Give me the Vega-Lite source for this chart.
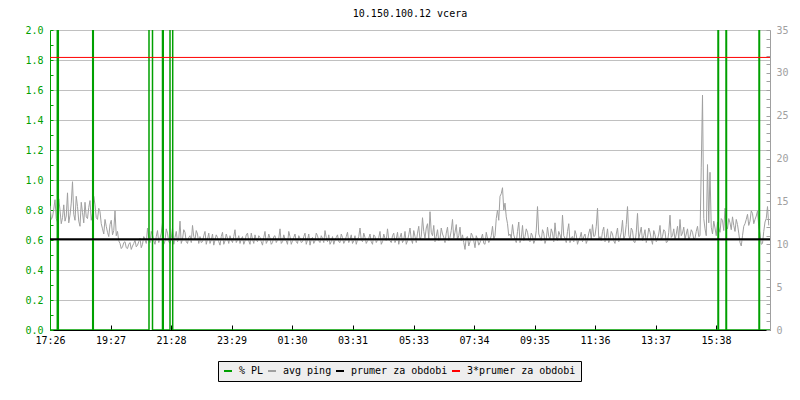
{
  "$schema": "https://vega.github.io/schema/vega-lite/v6.json",
  "width": 720,
  "height": 300,
  "autosize": {"type": "none"},
  "padding": {"left": 50, "top": 30, "right": 30, "bottom": 70},
  "background": "#ffffff",
  "title": {"text": "10.150.100.12 vcera", "font": "DejaVu Sans Mono", "fontSize": 10, "fontWeight": "normal", "color": "#000000", "offset": 6, "anchor": "middle"},
  "datasets": {
    "ping": [
      {"t":0,"ping":14.5},{"t":5,"ping":13.2},{"t":10,"ping":15.2},{"t":15,"ping":12.6},{"t":20,"ping":14.0},{"t":25,"ping":13.1},{"t":30,"ping":12.7},{"t":35,"ping":16.0},{"t":40,"ping":13.4},{"t":45,"ping":17.3},
      {"t":50,"ping":12.8},{"t":55,"ping":14.4},{"t":60,"ping":12.1},{"t":65,"ping":13.7},{"t":70,"ping":14.9},{"t":75,"ping":13.0},{"t":80,"ping":15.1},{"t":85,"ping":13.6},{"t":90,"ping":14.6},{"t":95,"ping":12.9},
      {"t":100,"ping":13.8},{"t":105,"ping":11.8},{"t":110,"ping":12.9},{"t":115,"ping":11.4},{"t":120,"ping":12.3},{"t":125,"ping":11.1},{"t":130,"ping":13.9},{"t":135,"ping":11.5},{"t":140,"ping":10.1},{"t":145,"ping":9.7},
      {"t":150,"ping":10.3},{"t":155,"ping":9.5},{"t":160,"ping":10.2},{"t":165,"ping":9.8},{"t":170,"ping":10.5},{"t":175,"ping":9.9},{"t":180,"ping":10.7},{"t":185,"ping":10.0},{"t":190,"ping":10.6},{"t":195,"ping":11.9},
      {"t":200,"ping":10.2},{"t":205,"ping":11.1},{"t":210,"ping":10.0},{"t":215,"ping":11.6},{"t":220,"ping":10.7},{"t":225,"ping":12.5},{"t":230,"ping":10.4},{"t":235,"ping":11.3},{"t":240,"ping":10.1},{"t":245,"ping":11.9},
      {"t":250,"ping":10.8},{"t":255,"ping":10.3},{"t":260,"ping":12.7},{"t":265,"ping":10.6},{"t":270,"ping":11.4},{"t":275,"ping":10.1},{"t":280,"ping":11.0},{"t":285,"ping":12.2},{"t":290,"ping":10.5},{"t":295,"ping":11.2},
      {"t":300,"ping":10.9},{"t":305,"ping":10.3},{"t":310,"ping":11.5},{"t":315,"ping":10.6},{"t":320,"ping":10.1},{"t":325,"ping":11.2},{"t":330,"ping":10.5},{"t":335,"ping":10.8},{"t":340,"ping":9.9},{"t":345,"ping":11.4},
      {"t":350,"ping":10.4},{"t":355,"ping":10.7},{"t":360,"ping":11.0},{"t":365,"ping":10.2},{"t":370,"ping":11.7},{"t":375,"ping":10.5},{"t":380,"ping":10.1},{"t":385,"ping":10.9},{"t":390,"ping":10.4},{"t":395,"ping":11.3},
      {"t":400,"ping":10.0},{"t":405,"ping":10.6},{"t":410,"ping":11.1},{"t":415,"ping":10.3},{"t":420,"ping":10.8},{"t":425,"ping":9.9},{"t":430,"ping":11.5},{"t":435,"ping":10.4},{"t":440,"ping":10.7},{"t":445,"ping":10.2},
      {"t":450,"ping":11.0},{"t":455,"ping":10.5},{"t":460,"ping":11.8},{"t":465,"ping":10.3},{"t":470,"ping":10.6},{"t":475,"ping":10.0},{"t":480,"ping":10.9},{"t":485,"ping":10.4},{"t":490,"ping":11.2},{"t":495,"ping":10.1},
      {"t":500,"ping":10.7},{"t":505,"ping":10.3},{"t":510,"ping":11.3},{"t":515,"ping":10.5},{"t":520,"ping":9.9},{"t":525,"ping":10.8},{"t":530,"ping":10.4},{"t":535,"ping":11.0},{"t":540,"ping":10.2},{"t":545,"ping":10.7},
      {"t":550,"ping":11.6},{"t":555,"ping":10.3},{"t":560,"ping":10.0},{"t":565,"ping":10.9},{"t":570,"ping":10.5},{"t":575,"ping":11.1},{"t":580,"ping":10.2},{"t":585,"ping":10.8},{"t":590,"ping":10.4},{"t":595,"ping":11.4},
      {"t":600,"ping":10.6},{"t":605,"ping":10.1},{"t":610,"ping":11.0},{"t":615,"ping":10.5},{"t":620,"ping":11.9},{"t":625,"ping":10.3},{"t":630,"ping":10.8},{"t":635,"ping":10.4},{"t":640,"ping":11.2},{"t":645,"ping":10.0},
      {"t":650,"ping":10.9},{"t":655,"ping":10.5},{"t":660,"ping":11.5},{"t":665,"ping":10.3},{"t":670,"ping":10.7},{"t":675,"ping":11.8},{"t":680,"ping":10.4},{"t":685,"ping":11.0},{"t":690,"ping":10.2},{"t":695,"ping":11.4},
      {"t":700,"ping":10.8},{"t":705,"ping":10.2},{"t":710,"ping":11.5},{"t":715,"ping":10.4},{"t":720,"ping":11.9},{"t":725,"ping":10.1},{"t":730,"ping":10.9},{"t":735,"ping":11.3},{"t":740,"ping":10.5},{"t":745,"ping":13.1},
      {"t":750,"ping":10.7},{"t":755,"ping":12.4},{"t":760,"ping":13.8},{"t":765,"ping":11.0},{"t":770,"ping":10.3},{"t":775,"ping":11.7},{"t":780,"ping":10.6},{"t":785,"ping":11.2},{"t":790,"ping":10.2},{"t":795,"ping":12.0},
      {"t":800,"ping":10.8},{"t":805,"ping":12.9},{"t":810,"ping":11.4},{"t":815,"ping":10.5},{"t":820,"ping":12.0},{"t":825,"ping":11.1},{"t":830,"ping":9.4},{"t":835,"ping":10.9},{"t":840,"ping":10.3},{"t":845,"ping":11.0},
      {"t":850,"ping":9.6},{"t":855,"ping":10.6},{"t":860,"ping":10.2},{"t":865,"ping":11.2},{"t":870,"ping":10.0},{"t":875,"ping":10.7},{"t":880,"ping":10.5},{"t":885,"ping":12.1},{"t":890,"ping":11.0},{"t":895,"ping":14.0},
      {"t":900,"ping":15.6},{"t":905,"ping":16.6},{"t":910,"ping":14.8},{"t":915,"ping":12.4},{"t":920,"ping":11.2},{"t":925,"ping":12.3},{"t":930,"ping":10.6},{"t":935,"ping":11.5},{"t":940,"ping":10.2},{"t":945,"ping":12.2},
      {"t":950,"ping":10.9},{"t":955,"ping":11.4},{"t":960,"ping":10.3},{"t":965,"ping":11.0},{"t":970,"ping":10.5},{"t":975,"ping":14.4},{"t":980,"ping":10.8},{"t":985,"ping":11.7},{"t":990,"ping":10.1},{"t":995,"ping":12.0},
      {"t":1000,"ping":10.6},{"t":1005,"ping":11.3},{"t":1010,"ping":12.5},{"t":1015,"ping":10.4},{"t":1020,"ping":11.1},{"t":1025,"ping":13.4},{"t":1030,"ping":10.7},{"t":1035,"ping":11.5},{"t":1040,"ping":10.2},{"t":1045,"ping":10.9},
      {"t":1050,"ping":11.6},{"t":1055,"ping":10.0},{"t":1060,"ping":10.8},{"t":1065,"ping":10.3},{"t":1070,"ping":11.2},{"t":1075,"ping":10.5},{"t":1080,"ping":11.8},{"t":1085,"ping":12.3},{"t":1090,"ping":11.0},{"t":1095,"ping":14.2},
      {"t":1100,"ping":10.9},{"t":1105,"ping":11.5},{"t":1110,"ping":10.3},{"t":1115,"ping":11.8},{"t":1120,"ping":10.6},{"t":1125,"ping":11.2},{"t":1130,"ping":10.1},{"t":1135,"ping":11.9},{"t":1140,"ping":10.7},{"t":1145,"ping":12.8},
      {"t":1150,"ping":11.0},{"t":1155,"ping":14.4},{"t":1160,"ping":10.5},{"t":1165,"ping":11.6},{"t":1170,"ping":10.2},{"t":1175,"ping":13.6},{"t":1180,"ping":11.3},{"t":1185,"ping":10.4},{"t":1190,"ping":11.7},{"t":1195,"ping":10.8},
      {"t":1200,"ping":11.4},{"t":1205,"ping":10.0},{"t":1210,"ping":11.1},{"t":1215,"ping":10.6},{"t":1220,"ping":12.2},{"t":1225,"ping":10.9},{"t":1230,"ping":11.5},{"t":1235,"ping":10.3},{"t":1240,"ping":13.4},{"t":1245,"ping":11.0},
      {"t":1250,"ping":10.5},{"t":1255,"ping":12.1},{"t":1260,"ping":12.9},{"t":1265,"ping":11.3},{"t":1270,"ping":10.6},{"t":1275,"ping":11.8},{"t":1280,"ping":10.9},{"t":1285,"ping":11.4},{"t":1290,"ping":10.7},{"t":1295,"ping":12.1},
      {"t":1300,"ping":11.0},{"t":1305,"ping":27.4},{"t":1310,"ping":11.8},{"t":1315,"ping":19.3},{"t":1320,"ping":18.4},{"t":1325,"ping":11.2},{"t":1330,"ping":11.9},{"t":1335,"ping":12.6},{"t":1340,"ping":11.4},{"t":1345,"ping":12.8},
      {"t":1350,"ping":14.2},{"t":1355,"ping":11.8},{"t":1360,"ping":12.5},{"t":1365,"ping":13.2},{"t":1370,"ping":11.5},{"t":1375,"ping":12.3},{"t":1380,"ping":10.2},{"t":1385,"ping":11.0},{"t":1390,"ping":12.4},{"t":1395,"ping":13.5},
      {"t":1400,"ping":12.7},{"t":1405,"ping":13.6},{"t":1410,"ping":12.9},{"t":1415,"ping":13.9},{"t":1420,"ping":11.2},{"t":1425,"ping":10.1},{"t":1430,"ping":12.6},{"t":1435,"ping":14.4},
      {"t":2.5,"ping":12.9},{"t":7.5,"ping":14.1},{"t":12.5,"ping":13.0},{"t":17.5,"ping":15.3},{"t":22.5,"ping":12.4},{"t":27.5,"ping":14.6},{"t":32.5,"ping":13.3},{"t":37.5,"ping":12.5},{"t":42.5,"ping":14.8},{"t":47.5,"ping":13.5},
      {"t":52.5,"ping":15.6},{"t":57.5,"ping":12.7},{"t":62.5,"ping":14.9},{"t":67.5,"ping":12.5},{"t":72.5,"ping":13.2},{"t":77.5,"ping":14.3},{"t":82.5,"ping":12.8},{"t":87.5,"ping":15.6},{"t":92.5,"ping":13.1},{"t":97.5,"ping":14.2},
      {"t":102.5,"ping":12.4},{"t":107.5,"ping":11.2},{"t":112.5,"ping":12.1},{"t":117.5,"ping":10.9},{"t":122.5,"ping":12.8},{"t":127.5,"ping":11.6},{"t":132.5,"ping":11.0},{"t":137.5,"ping":10.4},{"t":142.5,"ping":9.5},{"t":147.5,"ping":10.2},
      {"t":152.5,"ping":9.6},{"t":157.5,"ping":10.0},{"t":162.5,"ping":9.4},{"t":167.5,"ping":10.1},{"t":172.5,"ping":9.7},{"t":177.5,"ping":10.3},{"t":182.5,"ping":9.6},{"t":187.5,"ping":10.9},{"t":192.5,"ping":10.1},{"t":197.5,"ping":10.8},
      {"t":202.5,"ping":11.5},{"t":207.5,"ping":10.4},{"t":212.5,"ping":10.9},{"t":217.5,"ping":10.2},{"t":222.5,"ping":11.3},{"t":227.5,"ping":10.0},{"t":232.5,"ping":11.8},{"t":237.5,"ping":10.3},{"t":242.5,"ping":10.7},{"t":247.5,"ping":10.0},
      {"t":252.5,"ping":11.5},{"t":257.5,"ping":10.6},{"t":262.5,"ping":10.1},{"t":267.5,"ping":11.7},{"t":272.5,"ping":10.3},{"t":277.5,"ping":10.8},{"t":282.5,"ping":10.2},{"t":287.5,"ping":10.9},{"t":292.5,"ping":11.6},{"t":297.5,"ping":10.1},
      {"t":302.5,"ping":10.2},{"t":307.5,"ping":11.0},{"t":312.5,"ping":10.0},{"t":317.5,"ping":11.3},{"t":322.5,"ping":10.5},{"t":327.5,"ping":9.9},{"t":332.5,"ping":11.1},{"t":337.5,"ping":10.3},{"t":342.5,"ping":10.9},{"t":347.5,"ping":10.0},
      {"t":352.5,"ping":11.2},{"t":357.5,"ping":10.1},{"t":362.5,"ping":10.5},{"t":367.5,"ping":10.9},{"t":372.5,"ping":10.2},{"t":377.5,"ping":11.0},{"t":382.5,"ping":10.6},{"t":387.5,"ping":10.0},{"t":392.5,"ping":11.1},{"t":397.5,"ping":10.4},
      {"t":402.5,"ping":11.3},{"t":407.5,"ping":10.1},{"t":412.5,"ping":10.5},{"t":417.5,"ping":11.0},{"t":422.5,"ping":10.3},{"t":427.5,"ping":10.8},{"t":432.5,"ping":10.1},{"t":437.5,"ping":11.2},{"t":442.5,"ping":10.0},{"t":447.5,"ping":10.9},
      {"t":452.5,"ping":10.2},{"t":457.5,"ping":10.7},{"t":462.5,"ping":10.1},{"t":467.5,"ping":11.1},{"t":472.5,"ping":10.4},{"t":477.5,"ping":11.5},{"t":482.5,"ping":10.0},{"t":487.5,"ping":10.8},{"t":492.5,"ping":10.3},{"t":497.5,"ping":11.0},
      {"t":502.5,"ping":10.2},{"t":507.5,"ping":10.9},{"t":512.5,"ping":10.0},{"t":517.5,"ping":11.2},{"t":522.5,"ping":10.6},{"t":527.5,"ping":10.1},{"t":532.5,"ping":11.3},{"t":537.5,"ping":10.4},{"t":542.5,"ping":11.0},{"t":547.5,"ping":10.2},
      {"t":552.5,"ping":10.8},{"t":557.5,"ping":11.1},{"t":562.5,"ping":10.3},{"t":567.5,"ping":10.0},{"t":572.5,"ping":10.8},{"t":577.5,"ping":10.3},{"t":582.5,"ping":11.2},{"t":587.5,"ping":10.1},{"t":592.5,"ping":10.9},{"t":597.5,"ping":10.2},
      {"t":602.5,"ping":11.1},{"t":607.5,"ping":10.4},{"t":612.5,"ping":10.0},{"t":617.5,"ping":10.9},{"t":622.5,"ping":10.5},{"t":627.5,"ping":11.3},{"t":632.5,"ping":10.1},{"t":637.5,"ping":10.7},{"t":642.5,"ping":10.3},{"t":647.5,"ping":11.1},
      {"t":652.5,"ping":10.2},{"t":657.5,"ping":10.8},{"t":662.5,"ping":10.0},{"t":667.5,"ping":11.2},{"t":672.5,"ping":10.4},{"t":677.5,"ping":10.6},{"t":682.5,"ping":10.2},{"t":687.5,"ping":11.3},{"t":692.5,"ping":10.6},{"t":697.5,"ping":10.0},
      {"t":702.5,"ping":11.3},{"t":707.5,"ping":10.5},{"t":712.5,"ping":10.0},{"t":717.5,"ping":11.1},{"t":722.5,"ping":10.6},{"t":727.5,"ping":11.6},{"t":732.5,"ping":10.2},{"t":737.5,"ping":12.1},{"t":742.5,"ping":10.9},{"t":747.5,"ping":11.5},
      {"t":752.5,"ping":11.9},{"t":757.5,"ping":10.6},{"t":762.5,"ping":11.4},{"t":767.5,"ping":12.2},{"t":772.5,"ping":10.9},{"t":777.5,"ping":10.4},{"t":782.5,"ping":11.9},{"t":787.5,"ping":10.8},{"t":792.5,"ping":11.3},{"t":797.5,"ping":10.4},
      {"t":802.5,"ping":11.6},{"t":807.5,"ping":10.7},{"t":812.5,"ping":12.3},{"t":817.5,"ping":11.0},{"t":822.5,"ping":10.4},{"t":827.5,"ping":10.2},{"t":832.5,"ping":10.8},{"t":837.5,"ping":9.8},{"t":842.5,"ping":11.3},{"t":847.5,"ping":10.4},
      {"t":852.5,"ping":11.0},{"t":857.5,"ping":9.9},{"t":862.5,"ping":10.7},{"t":867.5,"ping":10.1},{"t":872.5,"ping":11.4},{"t":877.5,"ping":10.2},{"t":882.5,"ping":11.0},{"t":887.5,"ping":10.6},{"t":892.5,"ping":13.0},{"t":897.5,"ping":12.8},
      {"t":902.5,"ping":15.9},{"t":907.5,"ping":14.0},{"t":912.5,"ping":13.2},{"t":917.5,"ping":11.0},{"t":922.5,"ping":10.7},{"t":927.5,"ping":11.1},{"t":932.5,"ping":10.2},{"t":937.5,"ping":12.6},{"t":942.5,"ping":10.7},{"t":947.5,"ping":10.4},
      {"t":952.5,"ping":11.8},{"t":957.5,"ping":10.5},{"t":962.5,"ping":11.3},{"t":967.5,"ping":10.1},{"t":972.5,"ping":11.6},{"t":977.5,"ping":11.2},{"t":982.5,"ping":10.4},{"t":987.5,"ping":11.3},{"t":992.5,"ping":10.6},{"t":997.5,"ping":10.9},
      {"t":1002.5,"ping":11.8},{"t":1007.5,"ping":10.3},{"t":1012.5,"ping":10.9},{"t":1017.5,"ping":11.5},{"t":1022.5,"ping":10.5},{"t":1027.5,"ping":11.0},{"t":1032.5,"ping":10.2},{"t":1037.5,"ping":12.4},{"t":1042.5,"ping":10.8},{"t":1047.5,"ping":10.3},
      {"t":1052.5,"ping":11.1},{"t":1057.5,"ping":10.5},{"t":1062.5,"ping":11.4},{"t":1067.5,"ping":10.9},{"t":1072.5,"ping":10.1},{"t":1077.5,"ping":11.3},{"t":1082.5,"ping":10.6},{"t":1087.5,"ping":10.9},{"t":1092.5,"ping":12.1},{"t":1097.5,"ping":10.6},
      {"t":1102.5,"ping":10.4},{"t":1107.5,"ping":12.0},{"t":1112.5,"ping":10.8},{"t":1117.5,"ping":10.2},{"t":1122.5,"ping":11.5},{"t":1127.5,"ping":10.4},{"t":1132.5,"ping":11.2},{"t":1137.5,"ping":10.3},{"t":1142.5,"ping":11.4},{"t":1147.5,"ping":10.6},
      {"t":1152.5,"ping":12.3},{"t":1157.5,"ping":11.1},{"t":1162.5,"ping":11.9},{"t":1167.5,"ping":10.3},{"t":1172.5,"ping":11.4},{"t":1177.5,"ping":10.6},{"t":1182.5,"ping":12.0},{"t":1187.5,"ping":11.0},{"t":1192.5,"ping":10.2},{"t":1197.5,"ping":11.9},
      {"t":1202.5,"ping":10.6},{"t":1207.5,"ping":11.6},{"t":1212.5,"ping":10.3},{"t":1217.5,"ping":11.2},{"t":1222.5,"ping":10.5},{"t":1227.5,"ping":11.7},{"t":1232.5,"ping":10.2},{"t":1237.5,"ping":11.4},{"t":1242.5,"ping":10.8},{"t":1247.5,"ping":11.8},
      {"t":1252.5,"ping":11.2},{"t":1257.5,"ping":10.6},{"t":1262.5,"ping":11.0},{"t":1267.5,"ping":12.0},{"t":1272.5,"ping":11.2},{"t":1277.5,"ping":10.5},{"t":1282.5,"ping":11.7},{"t":1287.5,"ping":10.6},{"t":1292.5,"ping":11.5},{"t":1297.5,"ping":10.9},
      {"t":1302.5,"ping":19.0},{"t":1307.5,"ping":13.0},{"t":1312.5,"ping":11.0},{"t":1317.5,"ping":12.5},{"t":1322.5,"ping":12.0},{"t":1327.5,"ping":12.7},{"t":1332.5,"ping":11.0},{"t":1337.5,"ping":11.9},{"t":1342.5,"ping":13.0},{"t":1347.5,"ping":11.6},
      {"t":1352.5,"ping":12.2},{"t":1357.5,"ping":13.0},{"t":1362.5,"ping":11.7},{"t":1367.5,"ping":12.2},{"t":1372.5,"ping":12.9},{"t":1377.5,"ping":11.3},{"t":1382.5,"ping":9.8},{"t":1387.5,"ping":12.1},{"t":1392.5,"ping":12.9},{"t":1397.5,"ping":12.2},
      {"t":1402.5,"ping":13.9},{"t":1407.5,"ping":12.4},{"t":1412.5,"ping":13.3},{"t":1417.5,"ping":12.1},{"t":1422.5,"ping":10.0},{"t":1427.5,"ping":11.5},{"t":1432.5,"ping":13.0},{"t":1437.5,"ping":12.2}
    ],
    "pl": [
      {"t":0,"pl":0},{"t":14.6,"pl":100},{"t":16.6,"pl":0},{"t":85.4,"pl":100},{"t":86.6,"pl":0},
      {"t":198,"pl":100},{"t":205,"pl":0},{"t":225,"pl":100},{"t":226.5,"pl":0},{"t":240,"pl":100},{"t":245.4,"pl":0},
      {"t":1336,"pl":100},{"t":1337,"pl":0},{"t":1352,"pl":100},{"t":1353,"pl":0},{"t":1418,"pl":100},{"t":1419,"pl":0},{"t":1440,"pl":0}
    ],
    "avg": [
      {"series":"prumer za obdobi","v":10.6},
      {"series":"3*prumer za obdobi","v":31.8}
    ]
  },
  "layer": [
    {
      "data": {"name": "ping"},
      "mark": {"type": "line", "strokeWidth": 1, "clip": true},
      "encoding": {
        "x": {"field": "t", "type": "quantitative", "scale": {"domain": [0, 1440], "nice": false, "zero": false},
          "axis": {"orient": "bottom", "values": [0,121,242,363,484,605,727,848,969,1090,1211,1332],
            "labelExpr": "utcFormat((datum.value+1046)*60000,'%H:%M')", "title": null, "grid": false,
            "domainColor": "#000000", "tickColor": "#000000", "tickSize": -5, "labelPadding": 10,
            "labelFont": "DejaVu Sans Mono", "labelFontSize": 10, "labelColor": "#000000", "labelFlush": false, "labelOverlap": false}},
        "y": {"field": "ping", "type": "quantitative", "scale": {"domain": [0, 35], "nice": false},
          "axis": {"orient": "right", "values": [0,1,2,3,4,5,6,7,8,9,10,11,12,13,14,15,16,17,18,19,20,21,22,23,24,25,26,27,28,29,30,31,32,33,34,35],
            "labelExpr": "datum.value % 5 === 0 ? datum.value : ''", "title": null, "grid": false,
            "domainColor": "#a0a0a0", "tickColor": "#a0a0a0", "tickSize": -4, "labelPadding": 10,
            "labelFont": "DejaVu Sans Mono", "labelFontSize": 10, "labelColor": "#a0a0a0", "labelOverlap": false}},
        "color": {"datum": "avg ping", "type": "nominal",
          "scale": {"domain": ["% PL", "avg ping", "prumer za obdobi", "3*prumer za obdobi"], "range": ["#00a000", "#a0a0a0", "#000000", "#ff0000"]},
          "legend": {"orient": "none", "legendX": 168, "legendY": 331, "direction": "horizontal", "columns": 4, "title": null, "fillColor": "#eeeeee", "strokeColor": "#000000", "padding": 5,
            "labelFont": "DejaVu Sans Mono", "labelFontSize": 10, "labelColor": "#000000", "symbolType": "stroke", "symbolStrokeWidth": 2, "symbolSize": 64,
            "columnPadding": 0, "labelOffset": 6}}
      }
    },
    {
      "data": {"name": "pl"},
      "mark": {"type": "line", "interpolate": "step-after", "strokeWidth": 1.5, "clip": true},
      "encoding": {
        "x": {"field": "t", "type": "quantitative", "scale": {"domain": [0, 1440], "nice": false, "zero": false}},
        "y": {"field": "pl", "type": "quantitative", "scale": {"domain": [0, 2], "nice": false},
          "axis": {"orient": "left", "values": [0,0.1,0.2,0.3,0.4,0.5,0.6,0.7,0.8,0.9,1,1.1,1.2,1.3,1.4,1.5,1.6,1.7,1.8,1.9,2],
            "labelExpr": "round(datum.value*10) % 2 === 0 ? format(datum.value, '.1f') : ''", "title": null, "grid": true,
            "gridColor": "#c0c0c0", "gridOpacity": {"condition": {"test": "round(datum.value*10) % 2 === 0", "value": 1}, "value": 0},
            "domainColor": "#00a000", "tickColor": "#00a000", "tickSize": -3, "labelPadding": 10,
            "labelFont": "DejaVu Sans Mono", "labelFontSize": 10, "labelColor": "#00a000", "labelOverlap": false}},
        "color": {"datum": "% PL", "type": "nominal",
          "scale": {"domain": ["% PL", "avg ping", "prumer za obdobi", "3*prumer za obdobi"], "range": ["#00a000", "#a0a0a0", "#000000", "#ff0000"]},
          "legend": {"orient": "none", "legendX": 168, "legendY": 331, "direction": "horizontal", "columns": 4, "title": null}}
      }
    },
    {
      "data": {"name": "avg"},
      "mark": {"type": "rule"},
      "encoding": {
        "y": {"field": "v", "type": "quantitative", "scale": {"domain": [0, 35], "nice": false}, "axis": null},
        "color": {"field": "series", "type": "nominal",
          "scale": {"domain": ["% PL", "avg ping", "prumer za obdobi", "3*prumer za obdobi"], "range": ["#00a000", "#a0a0a0", "#000000", "#ff0000"]},
          "legend": {"orient": "none", "legendX": 168, "legendY": 331, "direction": "horizontal", "columns": 4, "title": null}},
        "strokeWidth": {"field": "series", "type": "nominal", "scale": {"domain": ["prumer za obdobi", "3*prumer za obdobi"], "range": [2, 1]}, "legend": null}
      }
    }
  ],
  "resolve": {"scale": {"y": "independent"}},
  "config": {
    "view": {"stroke": null}
  }
}
